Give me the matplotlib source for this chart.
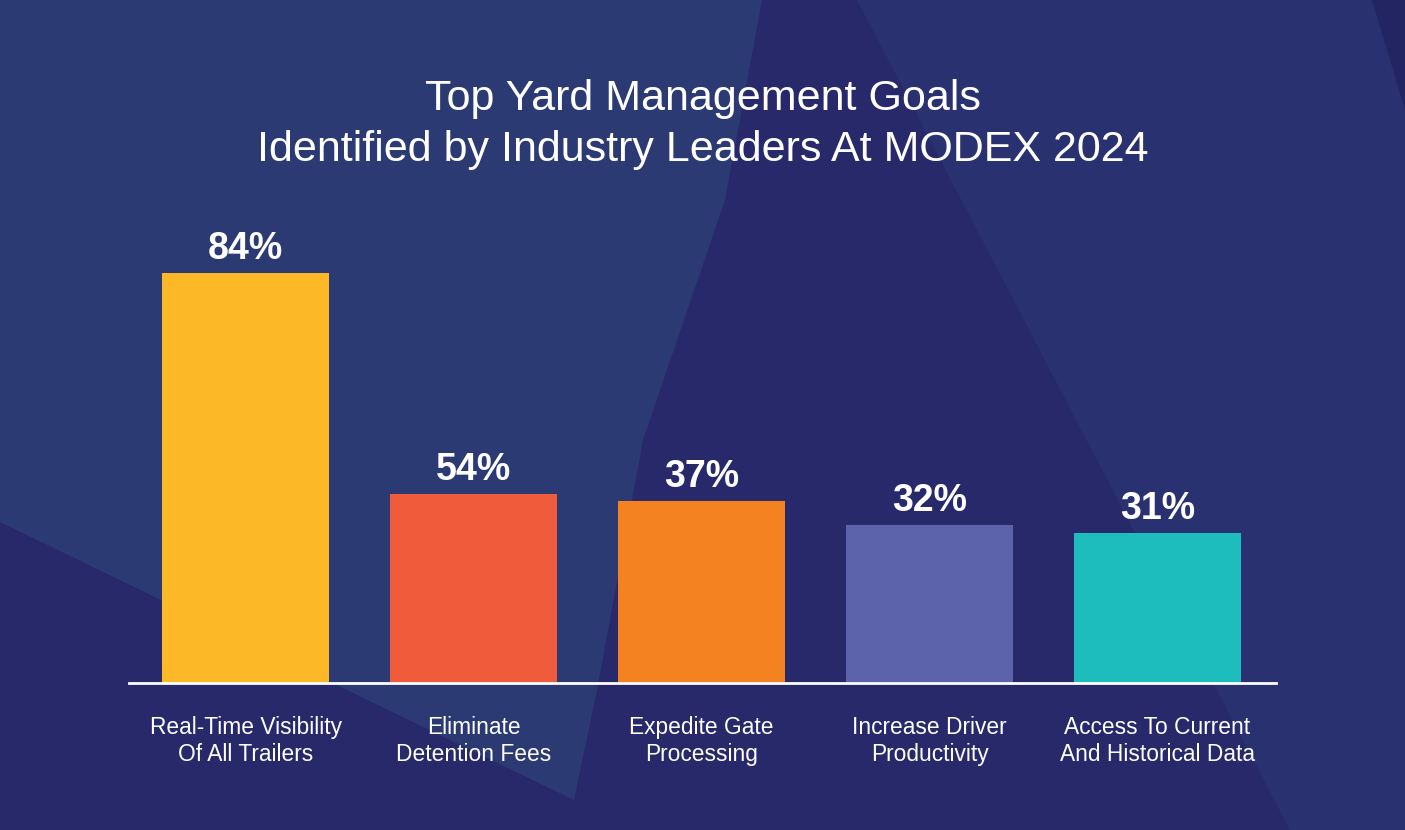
import matplotlib
matplotlib.use("Agg")
import matplotlib.pyplot as plt
from matplotlib.patches import Polygon

# données
categories = ["Real-Time Visibility\nOf All Trailers",
              "Eliminate\nDetention Fees",
              "Expedite Gate\nProcessing",
              "Increase Driver\nProductivity",
              "Access To Current\nAnd Historical Data"]
pct = [84, 54, 37, 32, 31]                    # valeurs affichées
bar_heights = [84, 38.7, 37.3, 32.3, 30.8]    # hauteurs telles que dessinées sur l'image
colors = ["#fcb827", "#f05c3b", "#f58220", "#5d63ab", "#1ebdbd"]

title = "Top Yard Management Goals\nIdentified by Industry Leaders At MODEX 2024"

plt.rcParams['font.family'] = ['Liberation Sans', 'DejaVu Sans']

W, H = 1405, 830
fig = plt.figure(figsize=(W / 100, H / 100), dpi=100)
fig.patch.set_facecolor("#27296a")

# fond : quelques polygones (coordonnées en pixels, origine en haut à gauche)
def poly(pts, color):
    xy = [(x / W, 1 - y / H) for x, y in pts]
    fig.patches.append(Polygon(xy, closed=True, transform=fig.transFigure,
                               facecolor=color, edgecolor="none", zorder=-10))

poly([(0, 0), (762, 0), (725, 200), (643, 440), (597, 690), (574, 800), (0, 522)], "#2c3a73")
poly([(857, 0), (1405, 0), (1405, 830), (1290, 830)], "#2a3170")
poly([(1372, 0), (1405, 0), (1405, 110)], "#232562")

# axes : ligne de base à y=683 px, 84 -> 410 px
ax = fig.add_axes([129 / W, (H - 683) / H, (1276 - 129) / W, 488 / H])
ax.set_facecolor("none")

x = range(len(categories))
bars = ax.bar(x, bar_heights, width=0.732, color=colors, zorder=2)
ax.set_xlim(-0.511, 4.52)
ax.set_ylim(0, 100)

for b, v in zip(bars, pct):
    ax.annotate(f"{v}%", (b.get_x() + b.get_width() / 2, b.get_height()),
                xytext=(0, 10), textcoords="offset points",
                ha="center", va="baseline", color="white",
                fontsize=27, fontweight="bold")

ax.set_xticks(list(x), categories)
ax.tick_params(axis="x", length=0, pad=24, labelsize=16.4, labelcolor="white")
for lab in ax.get_xticklabels():
    lab.set_linespacing(1.22)
ax.set_yticks([])
for s in ["top", "left", "right"]:
    ax.spines[s].set_visible(False)
ax.spines["bottom"].set_color("white")
ax.spines["bottom"].set_linewidth(2)
ax.spines["bottom"].set_zorder(3)

fig.text(0.5, 1 - 79 / H, title, ha="center", va="top", color="white",
         fontsize=31, linespacing=1.35)

fig.savefig("out.png", dpi=100, facecolor=fig.get_facecolor())
